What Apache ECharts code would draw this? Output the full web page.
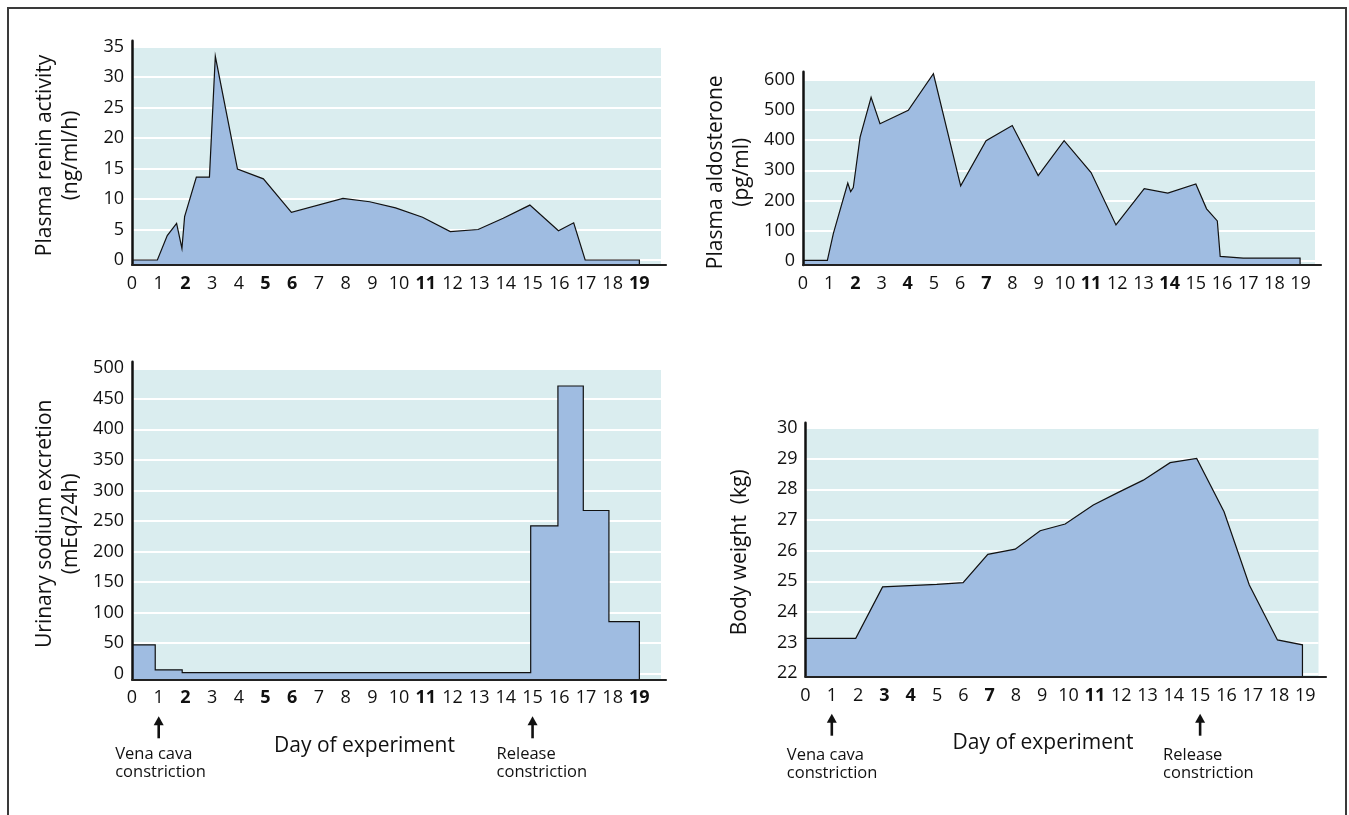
<!DOCTYPE html>
<html>
<head>
<meta charset="utf-8">
<script src="https://cdn.jsdelivr.net/npm/echarts@6/dist/echarts.min.js"></script>
<style>
html,body{margin:0;padding:0;background:#fff;}
#c{width:1349px;height:815px;}
</style>
</head>
<body>
<div id="c"></div>
<script>
// ---------------- data ----------------
const dayTicks = [0,1,2,3,4,5,6,7,8,9,10,11,12,13,14,15,16,17,18,19];

const reninDays   = [0, 0.95, 1.32, 1.67, 1.87, 1.97, 2.41, 2.9, 3.12, 3.95, 4.92, 5.97, 7.9, 8.9, 9.87, 10.88, 11.92, 12.96, 13.9, 14.9, 15.97, 16.54, 16.97, 19];
const reninValues = [0, 0, 4.0, 6.0, 1.9, 7.1, 13.6, 13.6, 33.4, 14.9, 13.3, 7.8, 10.1, 9.55, 8.55, 7.0, 4.65, 5.0, 6.85, 9.0, 4.8, 6.1, 0, 0];
const reninTicks  = [0, 5, 10, 15, 20, 25, 30, 35];

const aldoDays   = [0, 0.93, 1.16, 1.71, 1.82, 1.92, 2.18, 2.6, 2.94, 4.02, 4.98, 6.02, 6.99, 7.99, 8.98, 9.97, 11.0, 11.95, 13.03, 13.93, 15.0, 15.41, 15.82, 15.93, 16.81, 18.98];
const aldoValues = [3, 3, 92, 258, 230, 243, 410, 541, 454, 498, 619, 249, 398, 448, 283, 398, 293, 120, 240, 225, 255, 173, 133, 16, 10, 10];
const aldoTicks  = [0, 100, 200, 300, 400, 500, 600];

// step bars: start edge of each bar, value; last edge closes the final bar
const sodiumEdges  = [0, 0.87, 1.88, 14.93, 15.95, 16.9, 17.86, 19];
const sodiumValues = [47, 6, 1.5, 242, 471, 267, 85];
const sodiumTicks  = [0, 50, 100, 150, 200, 250, 300, 350, 400, 450, 500];

const weightDays   = [0, 1.91, 2.93, 3.95, 4.99, 5.99, 6.93, 7.97, 8.92, 9.87, 10.94, 11.89, 12.84, 13.86, 14.87, 15.91, 16.87, 17.94, 18.89];
const weightValues = [23.14, 23.14, 24.82, 24.86, 24.9, 24.96, 25.88, 26.05, 26.65, 26.87, 27.49, 27.9, 28.3, 28.87, 29.01, 27.27, 24.88, 23.09, 22.93];
const weightTicks  = [22, 23, 24, 25, 26, 27, 28, 29, 30];

// ---------------- layout / style ----------------
const FONT = "'Open Sans', 'Noto Sans', sans-serif";
const BG = '#daedef';
const FILL = '#9fbce1';
const INK = '#111';

const panels = [
  { data: reninDays.map((d,i)=>[d, reninValues[i]]), yTicks: reninTicks, ymin: -0.74, ymax: 35, xmax: 19.81,
    grid: {left:132, top:46.5, width:529, height:218}, over: {top:40.7, width:534},
    name: 'Plasma renin activity\n(ng/ml/h)', nameGap: 47.5, bold: [2,5,6,11,19] },
  { data: aldoDays.map((d,i)=>[d, aldoValues[i]]), yTicks: aldoTicks, ymin: -12.4, ymax: 600, xmax: 19.55,
    grid: {left:803, top:79.5, width:512, height:185.5}, over: {top:71.7, width:518},
    name: 'Plasma aldosterone\n(pg/ml)', nameGap: 48, bold: [2,4,7,11,14] },
  { data: sodiumValues.map((v,i)=>[sodiumEdges[i], v]), endDay: sodiumEdges[sodiumEdges.length-1], step: 'end',
    yTicks: sodiumTicks, ymin: -9.5, ymax: 500, xmax: 19.81,
    grid: {left:132, top:368.3, width:529, height:311}, over: {top:361.7, width:534},
    name: 'Urinary sodium excretion\n(mEq/24h)', nameGap: 47.5, bold: [2,5,6,11,19],
    xName: 'Day of experiment', xNameGap: 55, xNameShift: 64, textDy: 65.3, dx: [-43.5, -36] },
  { data: weightDays.map((d,i)=>[d, weightValues[i]]), yTicks: weightTicks, ymin: 21.89, ymax: 30, xmax: 19.5,
    grid: {left:805.5, top:428, width:513, height:248.7}, over: {top:422.7, width:520.5},
    name: 'Body weight  (kg)', nameGap: 52, bold: [3,4,7,11],
    xName: 'Day of experiment', xNameGap: 54.5, xNameShift: 38, textDy: 69, dx: [-45, -37] }
];

const markers = [
  { day: 1, text: 'Vena cava\nconstriction' },
  { day: 15, text: 'Release\nconstriction' }
];

const grids = [], xAxes = [], yAxes = [], series = [];

panels.forEach((p, i) => {
  grids.push({ left: p.grid.left, top: p.grid.top, width: p.grid.width, height: p.grid.height,
    show: true, backgroundColor: BG, borderWidth: 0, containLabel: false, outerBoundsMode: 'none' });
  const boldSet = new Set(p.bold);
  const xa = {
    type: 'value', gridIndex: i, min: 0, max: p.xmax,
    axisLine: { show: false, onZero: false },
    axisTick: { show: false },
    splitLine: { show: false },
    axisLabel: {
      customValues: dayTicks, margin: 10, color: INK, fontSize: 18, fontFamily: FONT,
      formatter: v => boldSet.has(v) ? '{b|' + v + '}' : String(v),
      rich: { b: { fontWeight: 'bold', fontSize: 18, fontFamily: FONT, color: INK } }
    }
  };
  if (p.xName) {
    xa.name = p.xName;
    xa.nameLocation = 'middle';
    xa.nameGap = p.xNameGap;
    xa.nameTextStyle = { fontSize: 21, fontFamily: FONT, color: INK, lineHeight: 24, padding: [0, p.xNameShift, 0, 0] };
  }
  xAxes.push(xa);
  yAxes.push({
    type: 'value', gridIndex: i, min: p.ymin, max: p.ymax,
    axisLine: { show: false, onZero: false },
    axisTick: { show: false, customValues: p.yTicks },
    splitLine: { show: true, lineStyle: { color: '#ffffff', width: 2 } },
    axisLabel: { customValues: p.yTicks, margin: 8, color: INK, fontSize: 18, fontFamily: FONT },
    name: p.name, nameLocation: 'middle', nameRotate: 90, nameGap: p.nameGap,
    nameTextStyle: { fontSize: 21, fontFamily: FONT, color: INK, lineHeight: 26 }
  });
  const lastDay = p.endDay != null ? p.endDay : p.data[p.data.length-1][0];
  series.push({
    type: 'line', xAxisIndex: i, yAxisIndex: i,
    data: p.data.concat([[lastDay, p.ymin]]),
    step: p.step || false,
    clip: false,
    symbol: 'none', silent: true, animation: false,
    lineStyle: { color: INK, width: 1.2, join: 'miter' },
    areaStyle: { color: FILL, opacity: 1, origin: 'start' }
  });
});

// overlay grids carrying only the axis lines (they run a little past the plot background)
panels.forEach((p, i) => {
  const bottom = p.grid.top + p.grid.height;
  grids.push({ left: p.grid.left, top: p.over.top, width: p.over.width, height: bottom - p.over.top,
    show: false, containLabel: false, outerBoundsMode: 'none' });
  xAxes.push({ type: 'value', gridIndex: 4 + i, min: 0, max: 1, z: 10,
    axisLine: { show: true, onZero: false, lineStyle: { color: '#222', width: 2.2 } },
    axisTick: { show: false }, axisLabel: { show: false }, splitLine: { show: false } });
  yAxes.push({ type: 'value', gridIndex: 4 + i, min: 0, max: 1, z: 10,
    axisLine: { show: true, onZero: false, lineStyle: { color: '#111', width: 2.5 } },
    axisTick: { show: false }, axisLabel: { show: false }, splitLine: { show: false } });
});

const chart = echarts.init(document.getElementById('c'), null, { renderer: 'canvas' });
chart.setOption({
  backgroundColor: '#ffffff',
  animation: false,
  grid: grids, xAxis: xAxes, yAxis: yAxes, series: series
});

// annotations placed through the day axis
const graphics = [{
  type: 'polyline', silent: true,
  shape: { points: [[8, 815], [8, 8], [1346, 8], [1346, 815]] },
  style: { stroke: '#3a3a3a', lineWidth: 2, fill: null }
}];
[2, 3].forEach(pi => {
  const p = panels[pi];
  const axisY = p.grid.top + p.grid.height;
  markers.forEach((m, k) => {
    const x = chart.convertToPixel({ xAxisIndex: pi }, m.day);
    const tip = axisY + 37;
    graphics.push({ type: 'line', silent: true,
      shape: { x1: x, y1: tip + 6, x2: x, y2: tip + 22 },
      style: { stroke: INK, lineWidth: 2.6 } });
    graphics.push({ type: 'polygon', silent: true,
      shape: { points: [[x - 5, tip + 9], [x, tip], [x + 5, tip + 9]] },
      style: { fill: INK } });
    graphics.push({ type: 'text', silent: true, x: x + p.dx[k], y: axisY + p.textDy,
      style: { text: m.text, fontSize: 16.5, fontFamily: FONT, lineHeight: 18.7, fill: INK,
        align: 'left', verticalAlign: 'top' } });
  });
});
chart.setOption({ graphic: graphics });
</script>
</body>
</html>
